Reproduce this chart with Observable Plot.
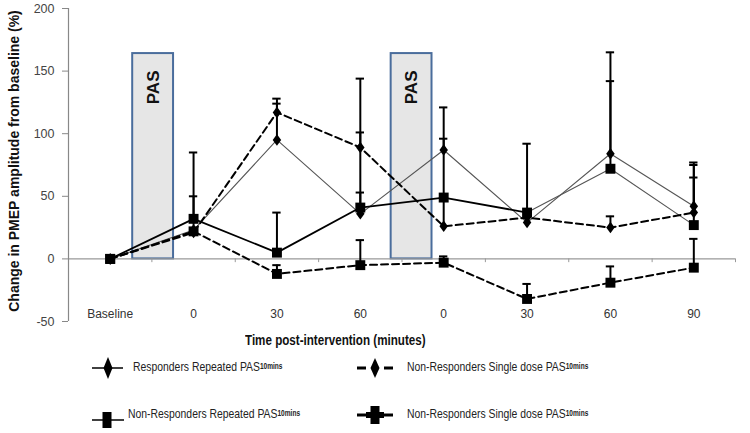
<!DOCTYPE html>
<html><head><meta charset="utf-8">
<script src="https://cdn.jsdelivr.net/npm/d3@7"></script>
<script src="https://cdn.jsdelivr.net/npm/@observablehq/plot@0.6"></script>
<style>
body{margin:0;background:#fff;width:750px;height:433px;position:relative;overflow:hidden;font-family:"Liberation Sans",Arial,sans-serif;}
#chart{position:absolute;left:0;top:0;}
.xlab{position:absolute;left:245px;top:331px;font-weight:bold;font-size:14px;color:#111;line-height:18px;transform:scaleX(0.83);transform-origin:left center;white-space:nowrap;}
.leg{position:absolute;height:26px;display:flex;align-items:center;font-size:13.5px;color:#222;white-space:nowrap;transform:scaleX(0.77);transform-origin:left center;}
.leg sub{font-size:8.5px;font-weight:bold;vertical-align:-3px;}
.sym{position:absolute;}
</style></head><body>
<div id="chart"></div>
<div class="xlab">Time post-intervention (minutes)</div>

<svg class="sym" style="left:90px;top:355px" width="36" height="26"><line x1="2" x2="33" y1="13" y2="13" stroke="#000" stroke-width="1.5"/><path d="M18,2 L22.5,13 L18,24 L13.5,13 Z" fill="#000"/></svg>
<div class="leg" style="left:133px;top:353px">Responders Repeated PAS<sub>10mins</sub></div>

<svg class="sym" style="left:355px;top:355px" width="40" height="26"><line x1="2" x2="11" y1="13" y2="13" stroke="#000" stroke-width="3"/><line x1="29" x2="38" y1="13" y2="13" stroke="#000" stroke-width="3"/><path d="M20,3 L24.5,13 L20,23 L15.5,13 Z" fill="#000"/></svg>
<div class="leg" style="left:407px;top:353px">Non-Responders Single dose PAS<sub>10mins</sub></div>

<svg class="sym" style="left:90px;top:408px" width="36" height="24"><line x1="2" x2="34" y1="12" y2="12" stroke="#000" stroke-width="1.5"/><rect x="12.5" y="4" width="9" height="16" fill="#000"/></svg>
<div class="leg" style="left:128px;top:400px">Non-Responders Repeated PAS<sub>10mins</sub></div>

<svg class="sym" style="left:355px;top:402px" width="40" height="26"><line x1="2" x2="11" y1="13" y2="13" stroke="#000" stroke-width="3"/><line x1="29" x2="38" y1="13" y2="13" stroke="#000" stroke-width="3"/><rect x="15.5" y="4" width="9" height="18" fill="#000"/><rect x="11" y="10" width="18" height="6" fill="#000"/></svg>
<div class="leg" style="left:407px;top:400px">Non-Responders Single dose PAS<sub>10mins</sub></div>

<script>
// ---- data ----
const categories = ["Baseline", "0", "30", "60", "0", "30", "60", "90"];
const yTicks = [-50, 0, 50, 100, 150, 200];

const respRepeated        = [0, 23, 95, 36, 87, 29, 84, 42];
const respRepeatedErr     = [null, 85, 124, 53, 121, null, 165, 77];
const nonRespRepeated     = [0, 32, 5, 41, 49, 37, 72, 27];
const nonRespRepeatedErr  = [null, 50, 37, 101, null, 92, 142, 65];
const nonRespSingleD      = [0, 21, 117, 89, 26, 33, 25, 37];
const nonRespSingleDErr   = [null, null, 128, 144, 96, null, 34, 75];
const nonRespSingleS      = [0, 22, -12, -5, -3, -32, -19, -7];
const nonRespSingleSErr   = [null, null, -5, 15, 2, -20, -6, 16];

// PAS intervention boxes (in category-index units) and their top value
const pasBoxes = [
  {x1: 0.77, x2: 1.26, top: 164, label: "PAS", labelY: 137},
  {x1: 3.87, x2: 4.36, top: 164, label: "PAS", labelY: 137}
];

// ---- build table ----
const series = [
  {key: "R",  values: respRepeated,    err: respRepeatedErr},
  {key: "NRR", values: nonRespRepeated, err: nonRespRepeatedErr},
  {key: "NRSD", values: nonRespSingleD, err: nonRespSingleDErr},
  {key: "NRSS", values: nonRespSingleS, err: nonRespSingleSErr}
];
const rows = [];
series.forEach(s => s.values.forEach((v, i) => rows.push({series: s.key, i, x: i + 0.5, y: v, err: s.err[i]})));
const errRows = rows.filter(d => d.err != null);
const of = k => rows.filter(d => d.series === k);

const diamond = {draw(ctx, size) { const r = Math.sqrt(size / Math.PI); const w = r * 0.85, h = r * 1.15;
  ctx.moveTo(0, -h); ctx.lineTo(w, 0); ctx.lineTo(0, h); ctx.lineTo(-w, 0); ctx.closePath(); }};

const capHalf = 0.05;
const boundaries = d3.range(1, categories.length + 1);

const plot = Plot.plot({
  width: 750, height: 332,
  marginLeft: 68, marginRight: 15, marginTop: 8, marginBottom: 11,
  style: {fontFamily: "'Liberation Sans', Arial, sans-serif", fontSize: "12px", color: "#333", background: "#fff", overflow: "visible"},
  x: {domain: [0, categories.length]},
  y: {domain: [-50, 200]},
  marks: [
    Plot.rect(pasBoxes, {x1: "x1", x2: "x2", y1: 0, y2: "top", fill: "#e6e6e6", stroke: "#4a6d9c", strokeWidth: 2}),
    Plot.text(pasBoxes, {x: d => (d.x1 + d.x2) / 2, y: "labelY", text: "label", rotate: -90, fontSize: 17, fontWeight: "bold", fill: "#111", fontFamily: "'Liberation Sans', Arial, sans-serif"}),
    Plot.ruleY([0], {stroke: "#999", strokeWidth: 1.2}),
    Plot.ruleX(boundaries, {x: d => d, y1: 0, y2: -3, stroke: "#999"}),
    Plot.ruleX([0], {stroke: "#888", strokeWidth: 1.2}),
    Plot.axisY(yTicks, {tickSize: 6, tickPadding: 8, stroke: "#888", fill: "#444", tickFormat: d => String(d), fontSize: 12.5}),
    Plot.axisX(categories.map((_, i) => i + 0.5), {tickSize: 0, tickPadding: -12, tickFormat: d => categories[Math.floor(d)], fill: "#333", fontSize: 12, label: null}),
    Plot.text(["Change in PMEP amplitude from baseline (%)"], {frameAnchor: "left", textAnchor: "middle", lineAnchor: "middle", text: d => d, rotate: -90, dx: -54, dy: -4, fontWeight: "bold", fontSize: 14, fill: "#111"}),
    // error bars
    Plot.ruleX(errRows, {x: "x", y1: "y", y2: "err", stroke: "#000", strokeWidth: 2}),
    Plot.ruleY(errRows, {y: "err", x1: d => d.x - capHalf, x2: d => d.x + capHalf, stroke: "#000", strokeWidth: 2}),
    // lines
    Plot.line(of("R"), {x: "x", y: "y", stroke: "#555", strokeWidth: 1.1}),
    Plot.line(of("NRR").filter(d => d.i <= 5), {x: "x", y: "y", stroke: "#000", strokeWidth: 1.8}),
    Plot.line(of("NRR").filter(d => d.i >= 5), {x: "x", y: "y", stroke: "#555", strokeWidth: 1.1}),
    Plot.line(of("NRSD"), {x: "x", y: "y", stroke: "#000", strokeWidth: 2, strokeDasharray: "7,4"}),
    Plot.line(of("NRSS"), {x: "x", y: "y", stroke: "#000", strokeWidth: 2, strokeDasharray: "7,4"}),
    // markers
    Plot.dot(of("R").concat(of("NRSD")), {x: "x", y: "y", symbol: diamond, r: 5, fill: "#000", stroke: "none"}),
    Plot.dot(of("NRR").concat(of("NRSS")), {x: "x", y: "y", symbol: "square", r: 5.6, fill: "#000", stroke: "none"})
  ]
});
document.getElementById("chart").appendChild(plot);
</script>
</body></html>
